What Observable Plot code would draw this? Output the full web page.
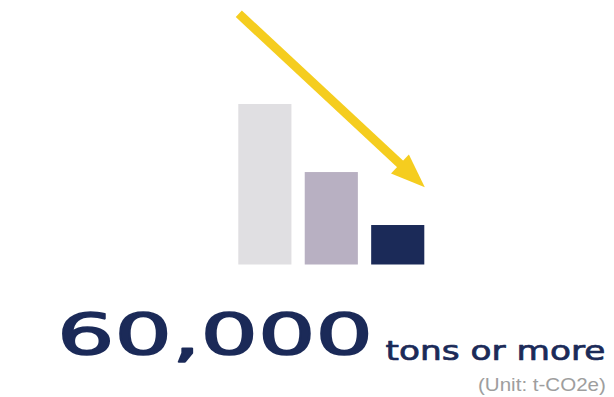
<!DOCTYPE html>
<html>
<head>
<meta charset="utf-8">
<script src="https://cdn.jsdelivr.net/npm/d3@7"></script>
<script src="https://cdn.jsdelivr.net/npm/@observablehq/plot@0.6"></script>
<style>
  html, body { margin: 0; padding: 0; background: #ffffff; }
  #chart { width: 614px; height: 397px; overflow: hidden; position: relative; }
  #chart svg { display: block; }
</style>
</head>
<body>
<div id="chart"></div>
<script>
// ---- data ----
const categories = ["Bar 1", "Bar 2", "Bar 3"];
const values = [100, 57.6, 24.6];
const barColors = ["#e0dfe2", "#b8b0c2", "#1b2a58"];
// arrow annotation, in chart data units (x: bar position, y: value)
const arrowStart = [0, 156.5];
const arrowShaftEnd = [2.47, 61.4];
const arrowTip = [2.80, 48.5];
// text
const headline = "60,000";
const headlineUnit = "tons or more";
const unitNote = "(Unit: t-CO2e)";

const navy = "#1b2a58";
const yellow = "#f5cd1f";

const bars = categories.map((c, i) => ({category: c, index: i, value: values[i], color: barColors[i]}));

const arrowHead = {
  draw(context, size) {
    const r = Math.sqrt(size / Math.PI);
    const w = r * 13.1 / 34;
    context.moveTo(0, 0);
    context.lineTo(w, r);
    context.lineTo(-w, r);
    context.closePath();
  }
};

const plot = Plot.plot({
  width: 614,
  height: 290,
  marginLeft: 238.3,
  marginRight: 176.4,
  marginTop: 104,
  marginBottom: 25.5,
  x: {domain: [0, 3], axis: null},
  y: {domain: [0, 100], axis: null},
  color: {type: "identity"},
  marks: [
    Plot.rectY(bars, {x1: "index", x2: d => d.index + 1, y: "value", fill: d => d.color, insetRight: 13.3}),
    Plot.link([{x1: arrowStart[0], y1: arrowStart[1], x2: arrowShaftEnd[0], y2: arrowShaftEnd[1]}],
      {x1: "x1", y1: "y1", x2: "x2", y2: "y2", stroke: yellow, strokeWidth: 9, strokeLinecap: "butt"}),
    Plot.dot([{x: arrowTip[0], y: arrowTip[1]}],
      {x: "x", y: "y", symbol: arrowHead, r: 34, fill: yellow, stroke: "none", rotate: 133})
  ]
});
const root = document.getElementById("chart");
root.appendChild(plot);

// caption below the chart
const cap = d3.create("svg").attr("width", 614).attr("height", 107);
root.appendChild(cap.node());

function stretchedText(str, x, y, size, family, target, strokeW, fill, anchorEnd) {
  const g = cap.append("g");
  const t = g.append("text")
    .attr("font-family", family).attr("font-size", size)
    .attr("fill", fill)
    .text(str);
  if (strokeW) t.attr("stroke", fill).attr("stroke-width", strokeW).attr("stroke-linejoin", "round");
  const natural = t.node().getComputedTextLength();
  const sx = target / natural;
  const x0 = anchorEnd ? x - target : x;
  g.attr("transform", `translate(${x0},${y}) scale(${sx},1)`);
}

stretchedText(headline, 57, 64.5, 57, "DejaVu Sans", 316, 1.6, navy, false);
stretchedText(headlineUnit, 385.5, 69.5, 27, "DejaVu Sans", 220, 0.7, navy, false);
stretchedText(unitNote, 606, 101, 18, "Liberation Sans, Arial, sans-serif", 128, 0, "#9e9e9e", true);
</script>
</body>
</html>
